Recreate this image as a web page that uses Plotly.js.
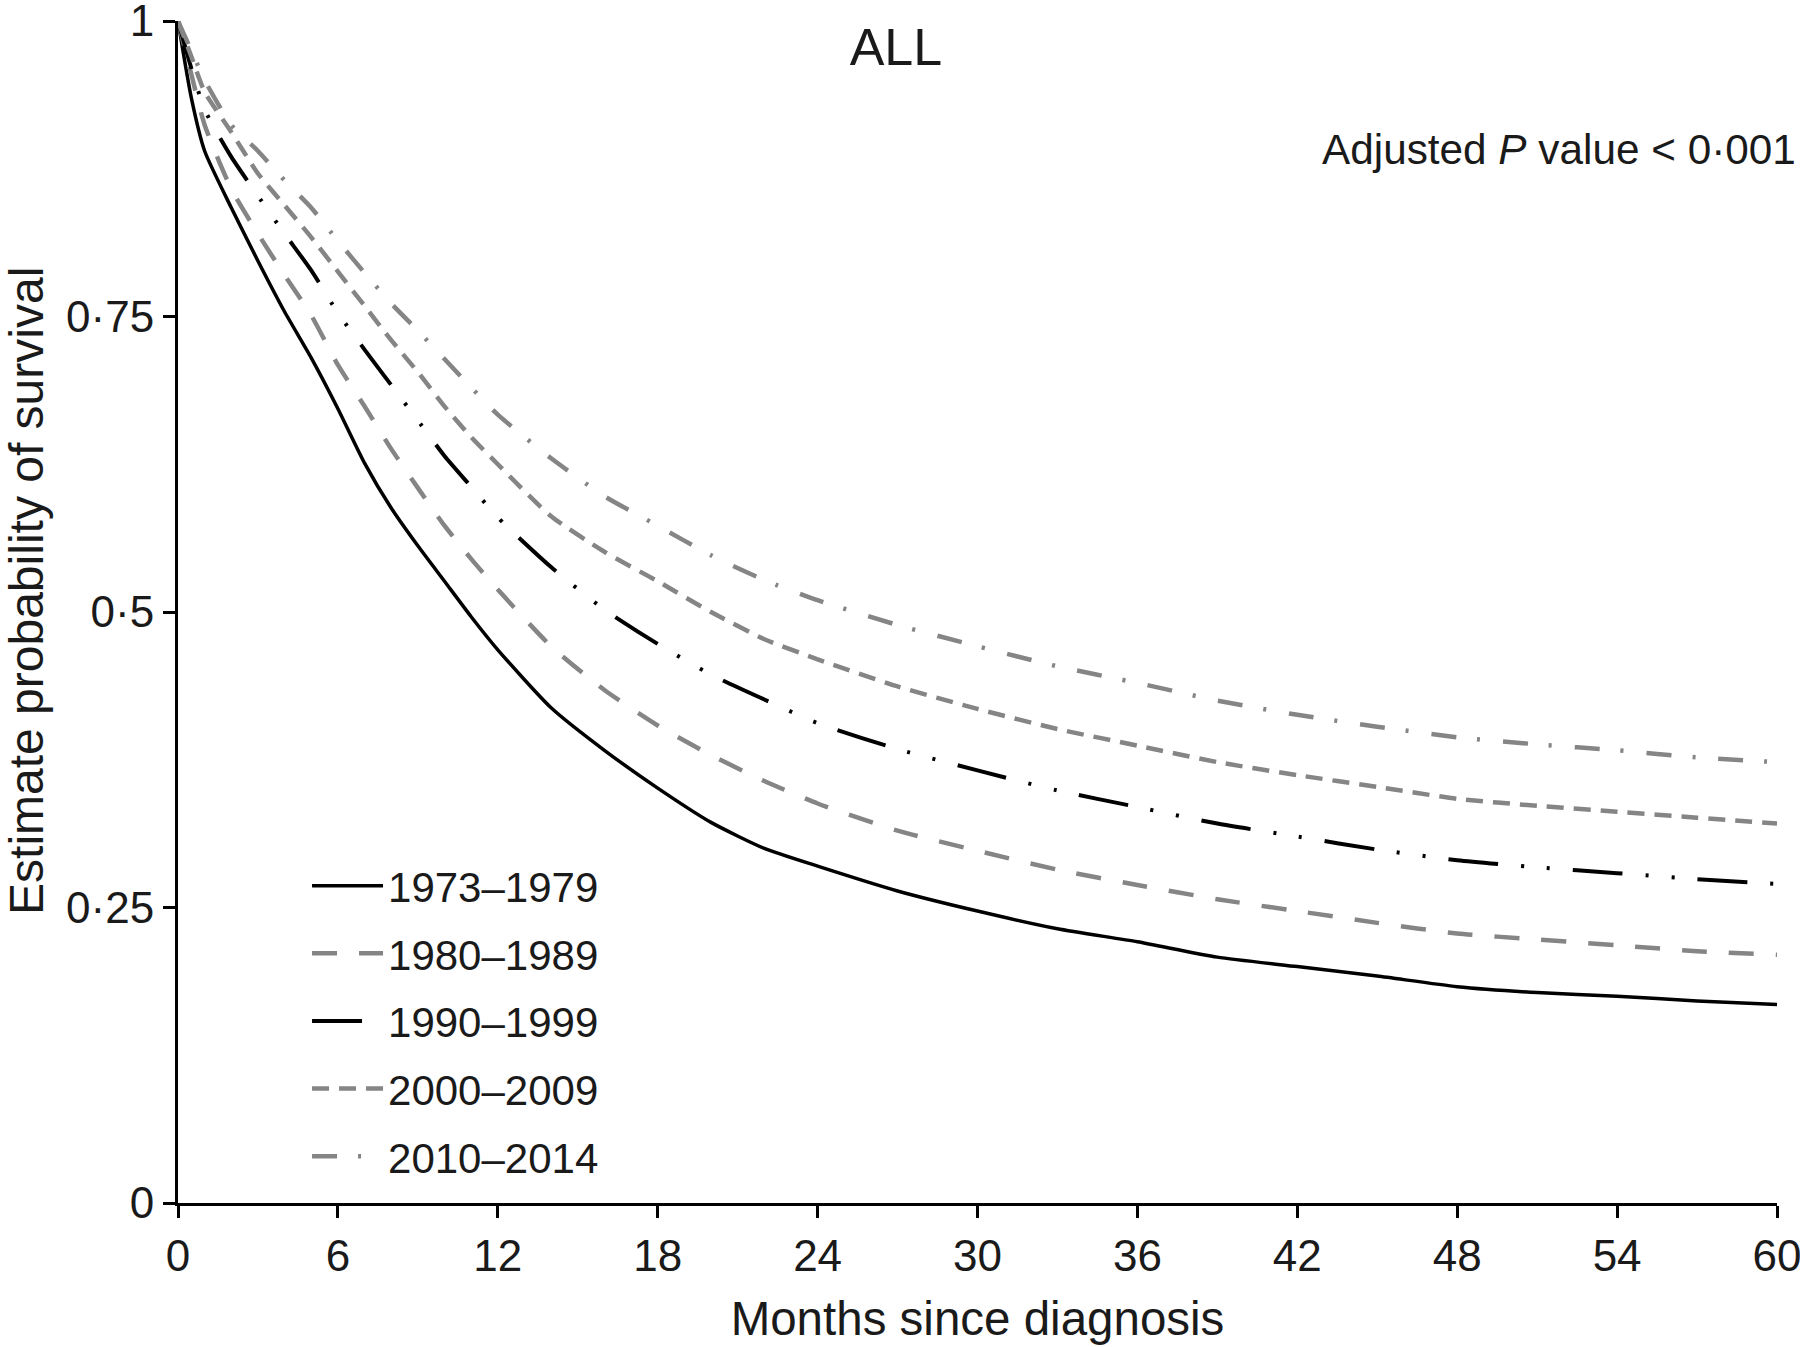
<!DOCTYPE html>
<html>
<head>
<meta charset="utf-8">
<script src="https://cdn.plot.ly/plotly-3.0.1.min.js"></script>
<style>
  html, body { margin: 0; padding: 0; background: #fff; }
  #chart { width: 1800px; height: 1347px; }
</style>
</head>
<body>
<div id="chart"></div>
<script>
// months since diagnosis (shared x for all curves)
const months = [0, 0.5, 1, 2, 3, 4, 5, 6, 7, 8, 9, 10, 11, 12, 14, 16, 18, 20, 22, 24, 27, 30, 33, 36, 39, 42, 45, 48, 51, 54, 57, 60];

// estimated survival
const surv1973 = [1, 0.935, 0.89, 0.842, 0.797, 0.754, 0.715, 0.672, 0.626, 0.588, 0.556, 0.526, 0.496, 0.468, 0.419, 0.383, 0.351, 0.322, 0.3, 0.285, 0.264, 0.247, 0.232, 0.221, 0.208, 0.2, 0.192, 0.183, 0.178, 0.175, 0.171, 0.168];
const surv1980 = [1, 0.955, 0.912, 0.858, 0.82, 0.785, 0.751, 0.709, 0.674, 0.638, 0.605, 0.573, 0.545, 0.519, 0.471, 0.434, 0.404, 0.379, 0.357, 0.338, 0.315, 0.298, 0.282, 0.269, 0.257, 0.247, 0.237, 0.228, 0.223, 0.218, 0.213, 0.21];
const surv1990 = [1, 0.96, 0.925, 0.885, 0.852, 0.82, 0.789, 0.753, 0.722, 0.692, 0.662, 0.632, 0.606, 0.58, 0.538, 0.502, 0.473, 0.447, 0.426, 0.406, 0.384, 0.366, 0.349, 0.335, 0.321, 0.31, 0.299, 0.29, 0.284, 0.279, 0.274, 0.27];
const surv2000 = [1, 0.97, 0.94, 0.906, 0.871, 0.844, 0.817, 0.788, 0.759, 0.73, 0.703, 0.674, 0.648, 0.625, 0.581, 0.551, 0.526, 0.5, 0.477, 0.46, 0.437, 0.418, 0.401, 0.387, 0.373, 0.362, 0.352, 0.342, 0.336, 0.331, 0.326, 0.321];
const surv2010 = [1, 0.975, 0.95, 0.912, 0.89, 0.865, 0.842, 0.814, 0.787, 0.761, 0.738, 0.714, 0.69, 0.667, 0.63, 0.598, 0.573, 0.548, 0.527, 0.51, 0.489, 0.471, 0.454, 0.44, 0.425, 0.413, 0.403, 0.394, 0.388, 0.383, 0.377, 0.373];

const periods = ["1973–1979", "1980–1989", "1990–1999", "2000–2009", "2010–2014"];
const series = [surv1973, surv1980, surv1990, surv2000, surv2010];

const xTicks = [0, 6, 12, 18, 24, 30, 36, 42, 48, 54, 60];
const yTicks = [0, 0.25, 0.5, 0.75, 1];
const yTickText = ["0", "0·25", "0·5", "0·75", "1"];

const GREY = "#858585";
const styles = [
  { color: "#000", width: 3.5, dash: "solid" },
  { color: GREY, width: 4.5, dash: "25px,22px" },
  { color: "#000", width: 4, dash: "50px,23px,3px,23px,3px,23px" },
  { color: GREY, width: 4.5, dash: "17px,10px" },
  { color: GREY, width: 4.5, dash: "25px,21px,3px,23px" },
];

const FONT = "Liberation Sans, Arial, Helvetica, sans-serif";
const INK = "#1a1a1a";

const traces = series.map((ys, i) => ({
  x: months,
  y: ys,
  name: periods[i],
  type: "scatter",
  mode: "lines",
  line: { color: styles[i].color, width: styles[i].width, dash: styles[i].dash, shape: "spline", smoothing: 0.6 },
  legendgroup: "g" + i,
}));

const axisCommon = {
  showline: true,
  linecolor: "#000",
  linewidth: 3,
  ticks: "outside",
  ticklen: 12,
  tickwidth: 3,
  tickcolor: "#000",
  showgrid: false,
  zeroline: false,
  ticklabeloverflow: "allow",
  tickfont: { size: 44, color: INK, family: FONT },
};

Plotly.newPlot("chart", traces, {
  width: 1800,
  height: 1347,
  margin: { l: 178, r: 23, t: 21, b: 144 },
  paper_bgcolor: "#fff",
  plot_bgcolor: "#fff",
  font: { family: FONT, color: INK },
  title: {
    text: "ALL",
    font: { size: 52, family: FONT, color: INK },
    xref: "paper", x: 0.449, xanchor: "center",
    yref: "container", y: 1 - 47 / 1347, yanchor: "middle",
  },
  xaxis: {
    ...axisCommon,
    range: [0, 60],
    tickvals: xTicks,
    title: { text: "Months since diagnosis", font: { size: 47.5, family: FONT, color: INK }, standoff: 23 },
  },
  yaxis: {
    ...axisCommon,
    range: [0, 1],
    tickvals: yTicks,
    ticktext: yTickText,
  },
  showlegend: true,
  legend: {
    x: 0.0807, y: 0.297, xanchor: "left", yanchor: "top",
    font: { size: 42, family: FONT, color: INK },
    bgcolor: "rgba(0,0,0,0)",
    itemwidth: 71,
    traceorder: "grouped",
    tracegroupgap: 10,
  },
  annotations: [
    {
      text: "Estimate probability of survival",
      xref: "paper", yref: "paper",
      x: 0, xshift: -151, y: 0.5178,
      xanchor: "center", yanchor: "middle",
      textangle: -90,
      borderpad: 0,
      showarrow: false,
      font: { size: 48, family: FONT, color: INK },
    },
    {
      text: "Adjusted <i>P</i> value &lt; 0·001",
      xref: "paper", yref: "paper",
      x: 1.0131, y: 0.891, xanchor: "right", yanchor: "middle",
      showarrow: false,
      font: { size: 42.3, family: FONT, color: INK },
    },
  ],
}, { displayModeBar: false });
</script>
</body>
</html>
